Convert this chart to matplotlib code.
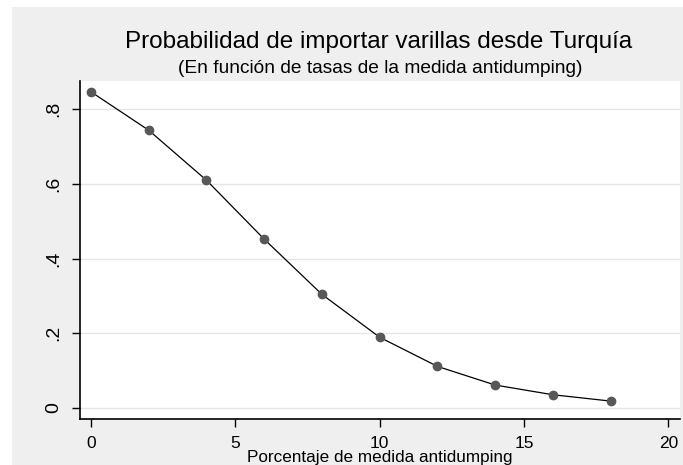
import matplotlib
matplotlib.use('Agg')
import matplotlib.pyplot as plt
from matplotlib.patches import Rectangle

# datos
tasa = [0, 2, 4, 6, 8, 10, 12, 14, 16, 18]
prob = [0.847, 0.744, 0.610, 0.452, 0.304, 0.189, 0.111, 0.061, 0.035, 0.018]
xticks = [0, 5, 10, 15, 20]
yticks = [0, 0.2, 0.4, 0.6, 0.8]
ylabels = ['0', '.2', '.4', '.6', '.8']

plt.rcParams['font.family'] = ['Liberation Sans', 'DejaVu Sans']

W, H = 683, 465
fig = plt.figure(figsize=(W/100, H/100), dpi=100, facecolor='white')
# fondo gris estilo Stata
fig.patches.append(Rectangle((12/W, 0), 1 - 12/W, 1 - 7/H, transform=fig.transFigure,
                             facecolor='#efefef', edgecolor='none', zorder=-1))

ax = fig.add_axes([80/W, 1 - 419/H, 600/W, 338/H])
ax.set_facecolor('white')
ax.plot(tasa, prob, color='black', lw=0.9, zorder=2)
ax.plot(tasa, prob, 'o', color='#585858', ms=6, zorder=3)

ax.set_xlim(-0.38, 20.4)
ax.set_ylim(-0.030, 0.876)
ax.set_xticks(xticks)
ax.set_yticks(yticks)
ax.set_yticklabels(ylabels, rotation=90, va='center')
ax.tick_params(axis='x', labelsize=12.5, length=6, width=1, color='black', pad=6)
ax.tick_params(axis='y', labelsize=14, length=6, width=1, color='black', pad=7)
ax.grid(axis='y', color='#e6e6e6', lw=1)
ax.set_axisbelow(True)
for s in ['top', 'right']:
    ax.spines[s].set_visible(False)
for s in ['left', 'bottom']:
    ax.spines[s].set_linewidth(1.2)

fig.text(379/W, 1 - 48/H, 'Probabilidad de importar varillas desde Turquía',
         ha='center', va='baseline', fontsize=17.5)
fig.text(380/W, 1 - 73/H, '(En función de tasas de la medida antidumping)',
         ha='center', va='baseline', fontsize=13.8)
fig.text(380/W, 1 - 462/H, 'Porcentaje de medida antidumping',
         ha='center', va='baseline', fontsize=12.3)

fig.savefig('out.png', dpi=100)
